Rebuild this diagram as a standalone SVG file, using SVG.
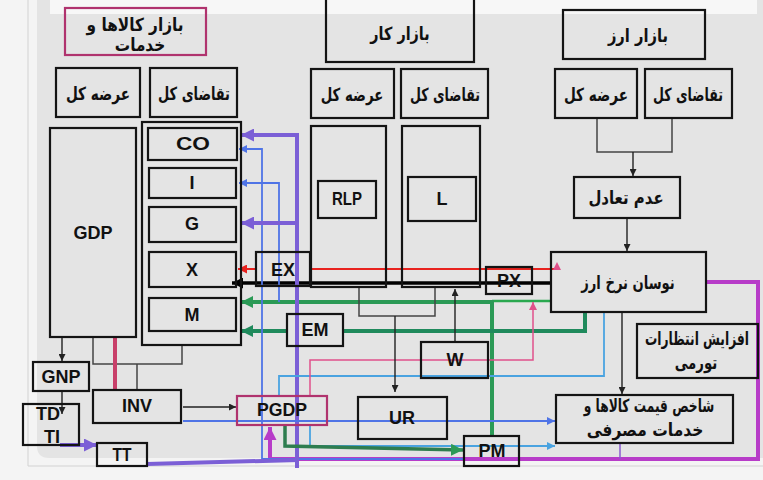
<svg xmlns="http://www.w3.org/2000/svg" width="763" height="480" viewBox="0 0 763 480">
<style>
.box{fill:none;stroke:#141414;stroke-width:2.2}
.pbox{fill:none;stroke:#b0336e;stroke-width:2.2}
.fa{font-family:"DejaVu Sans",sans-serif;font-weight:bold;font-size:18px;fill:#111;text-anchor:middle;dominant-baseline:central;direction:rtl}
.en{font-family:"Liberation Sans",Arial,sans-serif;font-weight:bold;font-size:18px;fill:#111;text-anchor:middle;dominant-baseline:central}
.gr{fill:none;stroke:#444;stroke-width:1.5}
.k{fill:none;stroke:#222;stroke-width:1.4}
</style>
<defs>
<marker id="ak" viewBox="0 0 10 10" refX="10" refY="5" markerWidth="7" markerHeight="7" markerUnits="userSpaceOnUse" orient="auto"><path d="M0,0L10,5L0,10z" fill="#222"/></marker>
<marker id="akb" viewBox="0 0 10 10" refX="10" refY="5" markerWidth="11" markerHeight="11" markerUnits="userSpaceOnUse" orient="auto"><path d="M0,0L10,5L0,10z" fill="#000"/></marker>
<marker id="ar" viewBox="0 0 10 10" refX="10" refY="5" markerWidth="9" markerHeight="9" markerUnits="userSpaceOnUse" orient="auto"><path d="M0,0L10,5L0,10z" fill="#e8231f"/></marker>
<marker id="ap" viewBox="0 0 10 10" refX="10" refY="5" markerWidth="13" markerHeight="13" markerUnits="userSpaceOnUse" orient="auto"><path d="M0,0L10,5L0,10z" fill="#7b5fd6"/></marker>
<marker id="ab" viewBox="0 0 10 10" refX="10" refY="5" markerWidth="8" markerHeight="8" markerUnits="userSpaceOnUse" orient="auto"><path d="M0,0L10,5L0,10z" fill="#4f74e6"/></marker>
<marker id="alb" viewBox="0 0 10 10" refX="10" refY="5" markerWidth="8" markerHeight="8" markerUnits="userSpaceOnUse" orient="auto"><path d="M0,0L10,5L0,10z" fill="#4aa3e0"/></marker>
<marker id="ag" viewBox="0 0 10 10" refX="10" refY="5" markerWidth="12" markerHeight="12" markerUnits="userSpaceOnUse" orient="auto"><path d="M0,0L10,5L0,10z" fill="#2b9a56"/></marker>
<marker id="at" viewBox="0 0 10 10" refX="10" refY="5" markerWidth="12" markerHeight="12" markerUnits="userSpaceOnUse" orient="auto"><path d="M0,0L10,5L0,10z" fill="#1f8a5c"/></marker>
<marker id="am" viewBox="0 0 10 10" refX="10" refY="5" markerWidth="13" markerHeight="13" markerUnits="userSpaceOnUse" orient="auto"><path d="M0,0L10,5L0,10z" fill="#b73cc8"/></marker>
<marker id="apk" viewBox="0 0 10 10" refX="10" refY="5" markerWidth="8" markerHeight="8" markerUnits="userSpaceOnUse" orient="auto"><path d="M0,0L10,5L0,10z" fill="#e0508a"/></marker>
</defs>
<g id="background">
<rect x="0" y="0" width="763" height="480" fill="#f4f4f4"/>
<path d="M37,0H763V458H49Q37,458 37,446Z" fill="#e4e4e4"/>
<rect x="50" y="0" width="707" height="14" fill="#f7f7f7"/>
<path d="M28,0V466H763" fill="none" stroke="#d2d2d2" stroke-width="1"/>
</g>
<g id="connectors">
<path class="gr" d="M597,118V152H672V118"/>
<path class="k" d="M633,152V176" marker-end="url(#ak)"/>
<path class="k" d="M627,218V251" marker-end="url(#ak)"/>
<path class="k" d="M622,312V394" marker-end="url(#ak)"/>
<path fill="none" stroke="#b73cc8" stroke-width="4" d="M706,282H758V459H270V427" marker-end="url(#am)"/>
<path fill="none" stroke="#8a5ad0" stroke-width="1.5" d="M620,443V459"/>
<path fill="none" stroke="#e8231f" stroke-width="2" d="M556,269H310"/>
<path fill="none" stroke="#e8231f" stroke-width="2" d="M256,269H238" marker-end="url(#ar)"/>
<polygon points="557,262 561,270 553,270" fill="#e0508a"/>
<path fill="none" stroke="#000" stroke-width="3.5" d="M551,283H232" marker-end="url(#akb)"/>
<path fill="none" stroke="#2aa84f" stroke-width="2.5" d="M551,301H492"/>
<path fill="none" stroke="#2b9a56" stroke-width="4" d="M492,436V302H241" marker-end="url(#ag)"/>
<path fill="none" stroke="#1f8a5c" stroke-width="4" d="M585,312V331H343"/>
<path fill="none" stroke="#1f8a5c" stroke-width="4" d="M287,331H241" marker-end="url(#at)"/>
<path fill="none" stroke="#4f74e6" stroke-width="1.8" d="M464,459H262V149H239" marker-end="url(#ab)"/>
<path fill="none" stroke="#4f74e6" stroke-width="1.8" d="M279,302V183H239" marker-end="url(#ab)"/>
<path fill="none" stroke="#7b5fd6" stroke-width="4" d="M147,464L297,460V135H241" marker-end="url(#ap)"/>
<path fill="none" stroke="#7b5fd6" stroke-width="4" d="M297,223H241" marker-end="url(#ap)"/>
<path fill="none" stroke="#7b5fd6" stroke-width="4" d="M297,458V468"/>
<path fill="none" stroke="#7b5fd6" stroke-width="4" d="M60,445H97" marker-end="url(#ap)"/>
<path class="k" d="M62,337V361" marker-end="url(#ak)"/>
<path class="k" d="M62,391V414" marker-end="url(#ak)"/>
<path class="gr" d="M93,337V364H182V345"/>
<path class="gr" d="M137,364V390"/>
<path fill="none" stroke="#c8406a" stroke-width="4" d="M115,338V390"/>
<path class="k" d="M183,407H236" marker-end="url(#ak)"/>
<path fill="none" stroke="#4f74e6" stroke-width="1.8" d="M183,421H555" marker-end="url(#ab)"/>
<path fill="none" stroke="#4aa3e0" stroke-width="1.8" d="M604,312V376H279V396"/>
<path fill="none" stroke="#4aa3e0" stroke-width="1.8" d="M310,425V446H555" marker-end="url(#alb)"/>
<path fill="none" stroke="#e0508a" stroke-width="1.5" d="M310,396V360H533V302" marker-end="url(#apk)"/>
<path fill="none" stroke="#2e7d4f" stroke-width="3.5" d="M285,425V446L463,450" marker-end="url(#ag)"/>
<path class="gr" d="M359,287V316H435V287"/>
<path class="k" d="M395,316V392" marker-end="url(#ak)"/>
<path class="k" d="M455,342V289" marker-end="url(#ak)"/>
</g>
<g id="goods-market"><rect class="pbox" x="65" y="8" width="141" height="47"/><text class="fa" transform="translate(135,25) scale(0.85,1)">بازار کالاها و</text><text class="fa" transform="translate(140,45) scale(0.85,1)">خدمات</text></g>
<g id="goods-supply"><rect class="box" x="56" y="68" width="84" height="49"/><text class="fa" transform="translate(98,94) scale(0.76,1)">عرضه کل</text></g>
<g id="goods-demand"><rect class="box" x="150" y="68" width="87" height="49"/><text class="fa" transform="translate(194,94) scale(0.72,1)">تقاضای کل</text></g>
<g id="demand-components"><rect class="box" x="142" y="122" width="99" height="223"/></g>
<g id="gdp"><rect class="box" x="50" y="128" width="86" height="209"/><text class="en" x="93" y="233" font-size="19">GDP</text></g>
<g id="co"><rect class="box" x="148" y="128" width="89" height="32"/><text class="en" x="193" y="144" font-size="19" textLength="34" lengthAdjust="spacingAndGlyphs">CO</text></g>
<g id="i"><rect class="box" x="149" y="168" width="87" height="30"/><text class="en" x="192" y="183">I</text></g>
<g id="g"><rect class="box" x="149" y="207" width="87" height="35"/><text class="en" x="192" y="224">G</text></g>
<g id="x"><rect class="box" x="149" y="252" width="87" height="35"/><text class="en" x="192" y="270">X</text></g>
<g id="m"><rect class="box" x="149" y="298" width="87" height="33"/><text class="en" x="192" y="315">M</text></g>
<g id="labor-market"><rect class="box" x="326" y="-3" width="148" height="65"/><text class="fa" transform="translate(400,34) scale(0.8,1)">بازار کار</text></g>
<g id="labor-supply"><rect class="box" x="311" y="69" width="83" height="49"/><text class="fa" transform="translate(352,95) scale(0.74,1)">عرضه کل</text></g>
<g id="labor-demand"><rect class="box" x="401" y="69" width="87" height="49"/><text class="fa" transform="translate(445,95) scale(0.7,1)">تقاضای کل</text></g>
<g id="labor-supply-col"><rect class="box" x="311" y="126" width="75" height="161"/></g>
<g id="labor-demand-col"><rect class="box" x="402" y="126" width="78" height="161"/></g>
<g id="rlp"><rect class="box" x="318" y="181" width="58" height="37"/><text class="en" x="347" y="199" textLength="30" lengthAdjust="spacingAndGlyphs">RLP</text></g>
<g id="l"><rect class="box" x="408" y="177" width="68" height="44"/><text class="en" x="442" y="199">L</text></g>
<g id="ex"><rect class="box" x="256" y="252" width="54" height="34"/><text class="en" x="283" y="270">EX</text></g>
<g id="px"><rect class="box" x="486" y="267" width="46" height="27"/><text class="en" x="509" y="281">PX</text></g>
<g id="fx-market"><rect class="box" x="563" y="10" width="142" height="49"/><text class="fa" transform="translate(638,36) scale(0.82,1)">بازار ارز</text></g>
<g id="fx-supply"><rect class="box" x="555" y="69" width="82" height="49"/><text class="fa" transform="translate(596,95) scale(0.76,1)">عرضه کل</text></g>
<g id="fx-demand"><rect class="box" x="645" y="69" width="87" height="49"/><text class="fa" transform="translate(688,95) scale(0.7,1)">تقاضای کل</text></g>
<g id="disequilibrium"><rect class="box" x="574" y="177" width="106" height="41"/><text class="fa" transform="translate(626,198) scale(0.83,1)">عدم تعادل</text></g>
<g id="fx-fluctuation"><rect class="box" x="551" y="252" width="155" height="60"/><text class="fa" transform="translate(628,283) scale(0.73,1)">نوسان نرخ ارز</text></g>
<g id="inflation-expectations"><rect class="box" x="637" y="324" width="121" height="54"/><text class="fa" transform="translate(697,339) scale(0.68,1)">افزایش انتظارات</text><text class="fa" transform="translate(696,363) scale(0.74,1)">تورمی</text></g>
<g id="cpi"><rect class="box" x="556" y="395" width="177" height="48"/><text class="fa" transform="translate(649,406) scale(0.68,1)">شاخص قیمت کالاها و</text><text class="fa" transform="translate(645,430) scale(0.86,1)">خدمات مصرفی</text></g>
<g id="em"><rect class="box" x="287" y="314" width="56" height="32"/><text class="en" x="315" y="330">EM</text></g>
<g id="w"><rect class="box" x="421" y="342" width="67" height="36"/><text class="en" x="455" y="360">W</text></g>
<g id="pgdp"><rect class="pbox" x="237" y="396" width="90" height="29"/><text class="en" x="282" y="410" font-size="19" textLength="50" lengthAdjust="spacingAndGlyphs">PGDP</text></g>
<g id="ur"><rect class="box" x="358" y="397" width="89" height="42"/><text class="en" x="402" y="418">UR</text></g>
<g id="pm"><rect class="box" x="464" y="436" width="55" height="30"/><text class="en" x="492" y="451">PM</text></g>
<g id="gnp"><rect class="box" x="33" y="362" width="56" height="29"/><text class="en" x="61" y="377">GNP</text></g>
<g id="td-ti"><rect class="box" x="23" y="404" width="56" height="41"/><text class="en" x="48" y="414">TD</text><text class="en" x="52" y="437">TI</text></g>
<g id="inv"><rect class="box" x="93" y="390" width="88" height="33"/><text class="en" x="137" y="406">INV</text></g>
<g id="tt"><rect class="box" x="97" y="443" width="50" height="23"/><text class="en" x="122" y="455" textLength="19" lengthAdjust="spacingAndGlyphs">TT</text></g>
</svg>
